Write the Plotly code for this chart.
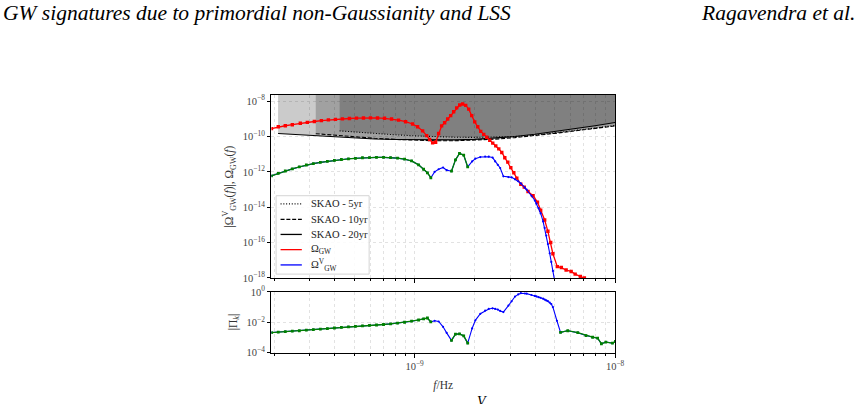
import numpy as np
import plotly.graph_objects as go

# ---------------- data (log10 values) ----------------
# Omega_GW (red)
log_f_red = [-9.714, -9.680, -9.645, -9.610, -9.570, -9.535, -9.500, -9.465, -9.430, -9.395,
             -9.360, -9.325, -9.290, -9.255, -9.220, -9.185, -9.150, -9.115, -9.080, -9.045,
             -9.010, -8.985, -8.960, -8.940, -8.925, -8.910, -8.895, -8.880, -8.865, -8.850,
             -8.835, -8.820, -8.805, -8.790, -8.775, -8.760, -8.745, -8.730, -8.715, -8.700,
             -8.685, -8.670, -8.655, -8.640, -8.625, -8.610, -8.595, -8.580, -8.565, -8.550,
             -8.535, -8.520, -8.505, -8.490, -8.470, -8.453, -8.434, -8.409, -8.387, -8.371,
             -8.351, -8.335, -8.321, -8.310, -8.288, -8.268, -8.244, -8.219, -8.199, -8.173,
             -8.153, -8.130, -8.100]
log_omega_red = [-9.55, -9.45, -9.39, -9.33, -9.25, -9.20, -9.15, -9.10, -9.06, -9.03,
                 -9.00, -8.98, -8.96, -8.95, -8.945, -8.95, -8.97, -9.01, -9.07, -9.16,
                 -9.29, -9.45, -9.68, -9.95, -10.17, -10.36, -10.32, -9.83, -9.40, -9.22,
                 -9.01, -8.82, -8.60, -8.38, -8.22, -8.16, -8.24, -8.45, -8.82, -9.17,
                 -9.45, -9.71, -9.88, -10.04, -10.21, -10.37, -10.53, -10.70, -10.90, -11.20,
                 -11.45, -11.76, -12.05, -12.35, -12.70, -12.86, -13.11, -13.35, -13.71, -14.17,
                 -14.72, -15.36, -15.99, -16.63, -17.36, -17.41, -17.55, -17.63, -17.78, -17.91,
                 -18.00, -18.12, -18.30]

# |Omega^V_GW| (blue) and |Pi_k| share the same frequencies
log_f_v = [-9.714, -9.680, -9.645, -9.610, -9.575, -9.540, -9.505, -9.470, -9.435, -9.400,
           -9.365, -9.330, -9.295, -9.260, -9.225, -9.190, -9.155, -9.120, -9.085, -9.050,
           -9.015, -8.980, -8.955, -8.936, -8.919, -8.900, -8.880, -8.858, -8.840, -8.816,
           -8.796, -8.776, -8.755, -8.735, -8.713, -8.697, -8.672, -8.648, -8.630, -8.611,
           -8.598, -8.585, -8.573, -8.557, -8.532, -8.516, -8.499, -8.483, -8.470, -8.450,
           -8.441, -8.417, -8.400, -8.392, -8.381, -8.371, -8.359, -8.351, -8.343, -8.335,
           -8.326, -8.318, -8.310, -8.290, -8.272, -8.236, -8.186, -8.145, -8.112, -8.087,
           -8.068, -8.046, -8.013, -7.998]
log_omega_v = [-12.22, -12.08, -11.95, -11.83, -11.72, -11.61, -11.53, -11.46, -11.40, -11.35,
               -11.30, -11.26, -11.23, -11.20, -11.19, -11.18, -11.18, -11.19, -11.22, -11.28,
               -11.38, -11.60, -11.85, -12.05, -12.33, -12.00, -11.85, -11.75, -11.90, -11.96,
               -11.32, -10.96, -11.05, -11.72, -11.41, -11.25, -11.16, -11.13, -11.14, -11.19,
               -11.41, -11.60, -11.78, -12.25, -12.29, -12.31, -12.42, -12.53, -12.65, -12.89,
               -13.00, -13.35, -13.62, -13.80, -14.05, -14.35, -14.80, -15.17, -15.60, -16.08,
               -16.60, -17.09, -17.60, -19.00, -20.0, -20.5, -21.0, -21.5, -22.0, -22.5,
               -23.0, -23.5, -24.0, -24.5]
log_pi = [-2.68, -2.65, -2.62, -2.59, -2.56, -2.52, -2.49, -2.45, -2.42, -2.38,
          -2.34, -2.30, -2.27, -2.24, -2.21, -2.18, -2.15, -2.11, -2.06, -2.00,
          -1.93, -1.85, -1.78, -1.72, -1.98, -1.90, -1.95, -2.30, -2.70, -3.20,
          -2.79, -2.77, -2.90, -3.38, -2.41, -1.87, -1.44, -1.23, -1.12, -1.08,
          -1.12, -1.16, -1.25, -1.33, -0.90, -0.62, -0.30, -0.16, -0.08, -0.10,
          -0.11, -0.20, -0.26, -0.29, -0.34, -0.38, -0.44, -0.50, -0.56, -0.60,
          -0.70, -0.80, -1.00, -1.90, -2.67, -2.56, -2.69, -2.88, -2.99, -3.05,
          -3.42, -3.31, -3.38, -3.27]
# frequency bands where the green overlay is drawn
green_bands = [(-9.72, -8.915), (-8.82, -8.73), (-8.28, -7.99)]

# SKAO power-law sensitivity curves
log_f_5yr = [-9.374, -9.3, -9.2, -9.1, -9.0, -8.9, -8.8, -8.7, -8.6, -8.5, -8.4, -8.3, -8.2, -8.1, -8.0]
log_omega_5yr = [-9.68, -9.75, -9.83, -9.90, -9.96, -10.01, -10.04, -10.05, -10.04, -10.00,
                 -9.92, -9.80, -9.67, -9.52, -9.37]
log_f_10yr = [-9.493, -9.4, -9.3, -9.2, -9.1, -9.0, -8.9, -8.8, -8.7, -8.6, -8.5, -8.4, -8.3,
              -8.2, -8.1, -8.0]
log_omega_10yr = [-9.84, -9.93, -10.02, -10.10, -10.16, -10.21, -10.24, -10.24, -10.21, -10.15,
                  -10.06, -9.95, -9.82, -9.68, -9.53, -9.40]
log_f_20yr = [-9.681, -9.6, -9.5, -9.4, -9.3, -9.2, -9.1, -9.0, -8.9, -8.8, -8.7, -8.6, -8.5,
              -8.4, -8.3, -8.2, -8.1, -8.0]
log_omega_20yr = [-9.83, -9.88, -9.96, -10.03, -10.09, -10.14, -10.17, -10.19, -10.20, -10.19,
                  -10.16, -10.10, -10.00, -9.87, -9.72, -9.56, -9.39, -9.21]

skao_names = ["SKAO - 5yr", "SKAO - 10yr", "SKAO - 20yr"]
skao_dash = ["1px,1.8px", "4px,1.8px", "solid"]
legend_labels = skao_names + ["Ω<sub>GW</sub>", "Ω<sup>V</sup><sub>GW</sub>"]
legend_colors = ["black", "black", "black", "red", "blue"]
legend_dash = skao_dash + ["solid", "solid"]

x_major_exp = [-9, -8]
y_main_exp = [-8, -10, -12, -14, -16, -18]
y_pi_exp = [0, -2, -4]
minor_mult = [2, 3, 4, 5, 6, 7, 8, 9]

# ---------------- figure ----------------
W, H = 867, 404
FONT = "Liberation Serif"
TICK_COL = "#444"
fig = go.Figure()

def p(v):
    return 10 ** np.asarray(v, dtype=float)

def pow_text(e):
    return "10<sup>%s</sup>" % (str(e).replace("-", "−"))

f_v = p(log_f_v)
lf_v = np.asarray(log_f_v)
green = np.zeros(len(lf_v), bool)
for a, b in green_bands:
    green |= (lf_v >= a) & (lf_v <= b)

TOP = 1e-6
skao = [(log_f_5yr, log_omega_5yr), (log_f_10yr, log_omega_10yr), (log_f_20yr, log_omega_20yr)]
for lf, lo in skao:
    fx = list(p(lf)) + [p(lf)[-1], p(lf)[0]]
    fy = list(p(lo)) + [TOP, TOP]
    fig.add_trace(go.Scatter(x=fx, y=fy, mode="lines", fill="toself",
                             fillcolor="rgba(0,0,0,0.205)", line=dict(width=0),
                             showlegend=False, hoverinfo="skip", xaxis="x", yaxis="y"))

for (lf, lo), name, dash in zip(skao, skao_names, skao_dash):
    fig.add_trace(go.Scatter(x=p(lf), y=p(lo), mode="lines", name=name, showlegend=False,
                             line=dict(color="black", width=1.1, dash=dash),
                             xaxis="x", yaxis="y"))

fig.add_trace(go.Scatter(x=p(log_f_red), y=p(log_omega_red), mode="lines+markers",
                         showlegend=False, line=dict(color="red", width=1.3),
                         marker=dict(color="red", size=3.4, symbol="square"),
                         xaxis="x", yaxis="y"))
fig.add_trace(go.Scatter(x=f_v, y=p(log_omega_v), mode="lines+markers", showlegend=False,
                         line=dict(color="blue", width=1.1), marker=dict(color="blue", size=2.2),
                         xaxis="x", yaxis="y"))
gy = np.where(green, p(log_omega_v), np.nan)
fig.add_trace(go.Scatter(x=f_v, y=gy, mode="lines+markers", showlegend=False,
                         line=dict(color="green", width=1.3),
                         marker=dict(color="green", size=2.8, symbol="square"),
                         connectgaps=False, xaxis="x", yaxis="y"))

fig.add_trace(go.Scatter(x=f_v, y=p(log_pi), mode="lines+markers", showlegend=False,
                         line=dict(color="blue", width=1.1), marker=dict(color="blue", size=2.2),
                         xaxis="x2", yaxis="y2"))
gpi = np.where(green, p(log_pi), np.nan)
fig.add_trace(go.Scatter(x=f_v, y=gpi, mode="lines+markers", showlegend=False,
                         line=dict(color="green", width=1.3),
                         marker=dict(color="green", size=2.8, symbol="square"),
                         connectgaps=False, xaxis="x2", yaxis="y2"))

minor_vals = [m * 10.0 ** e for e in (-10, -9) for m in minor_mult]
xr = [-9.714, -8.0]
x_dom = [274.3 / W, 621.5 / W]
GRIDC = "#e2e2e2"
axis_common = dict(type="log", showline=True, linecolor="black", linewidth=1, mirror=True,
                   ticks="outside", tickcolor="black", zeroline=False,
                   showgrid=True, gridcolor=GRIDC, griddash="dot", gridwidth=1)
minor_x = dict(tickvals=minor_vals, ticks="outside", ticklen=2, tickcolor="black",
               showgrid=True, gridcolor=GRIDC, griddash="dot")
tf = dict(family=FONT, size=10.5, color=TICK_COL)
title_font = dict(family=FONT, size=11.5, color="#333")

fig.update_layout(
    width=W, height=H, margin=dict(l=0, r=0, t=0, b=0),
    paper_bgcolor="white", plot_bgcolor="white",
    font=dict(family=FONT, color="#222"), showlegend=False,
    xaxis=dict(domain=x_dom, range=xr, tickvals=[10.0 ** e for e in x_major_exp],
               showticklabels=False, ticklen=4, minor=minor_x, anchor="y", **axis_common),
    yaxis=dict(domain=[(H - 280) / H, (H - 91) / H], range=[-18, -7.655],
               tickvals=[10.0 ** e for e in y_main_exp], ticktext=[pow_text(e) for e in y_main_exp],
               tickfont=tf, ticklen=3.5, anchor="x",
               title=dict(text="|Ω<sup>V</sup><sub>GW</sub>(<i>f</i>)|, Ω<sub>GW</sub>(<i>f</i>)",
                          font=title_font, standoff=6),
               **axis_common),
    xaxis2=dict(domain=x_dom, range=xr, tickvals=[10.0 ** e for e in x_major_exp],
                ticktext=[pow_text(e) for e in x_major_exp], tickfont=tf, ticklen=4,
                minor=minor_x, anchor="y2",
                title=dict(text="<i>f</i>/Hz", font=title_font, standoff=9),
                **axis_common),
    yaxis2=dict(domain=[(H - 357) / H, (H - 294) / H], range=[-4, 0.03],
                tickvals=[10.0 ** e for e in y_pi_exp], ticktext=[pow_text(e) for e in y_pi_exp],
                tickfont=tf, ticklen=3.5, anchor="x2",
                title=dict(text="|Π<sub><i>k</i></sub>|", font=title_font, standoff=6),
                **axis_common),
)

# legend drawn by hand (box, line samples, labels)
lg_x0, lg_x1, lg_y0, lg_y1 = 279, 373, 195, 276
fig.add_shape(type="rect", xref="paper", yref="paper", layer="above",
              x0=lg_x0 / W, x1=lg_x1 / W, y0=(H - lg_y1) / H, y1=(H - lg_y0) / H,
              line=dict(color="#d4d4d4", width=1), fillcolor="rgba(255,255,255,0.85)")
row_y = [203.5, 219.5, 235.0, 250.7, 266.5]
for yy, lab, col, dsh in zip(row_y, legend_labels, legend_colors, legend_dash):
    fig.add_shape(type="line", xref="paper", yref="paper", layer="above",
                  x0=283.5 / W, x1=305 / W, y0=(H - yy) / H, y1=(H - yy) / H,
                  line=dict(color=col, width=1.3, dash=dsh))
    fig.add_annotation(text=lab, xref="paper", yref="paper", x=312 / W, y=(H - yy) / H,
                       xanchor="left", yanchor="middle", showarrow=False,
                       font=dict(family=FONT, size=10.5, color="#222"))

fig.add_annotation(text="<i>GW signatures due to primordial non-Gaussianity and LSS</i>",
                   xref="paper", yref="paper", x=1 / W, y=(H + 8) / H, xanchor="left",
                   yanchor="top", showarrow=False, font=dict(family=FONT, size=21.5, color="black"))
fig.add_annotation(text="<i>Ragavendra et al.</i>",
                   xref="paper", yref="paper", x=866 / W, y=(H + 8) / H, xanchor="right",
                   yanchor="top", showarrow=False, font=dict(family=FONT, size=21.5, color="black"))
fig.add_annotation(text="<i>V</i>", xref="paper", yref="paper", x=487 / W, y=(H - 398) / H,
                   xanchor="center", yanchor="top", showarrow=False,
                   font=dict(family=FONT, size=14, color="black"))

fig.write_html("out.html")
